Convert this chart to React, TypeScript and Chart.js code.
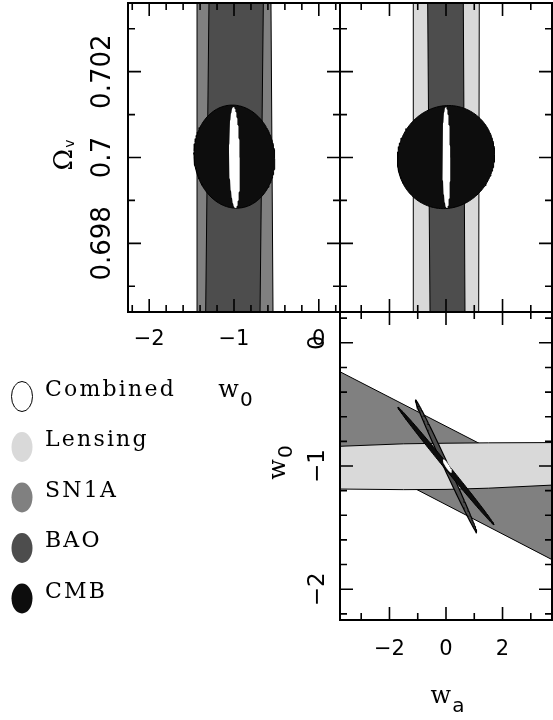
import React, { useEffect, useRef } from 'react';
import { Chart, registerables } from 'chart.js';

Chart.register(...registerables);

const CANVAS_W = 553;
const CANVAS_H = 720;

// ---------- axes ----------
const W0_MIN = -2.25;
const W0_MAX = 0.25;
const WA_MIN = -3.75;
const WA_MAX = 3.75;
const OMV_MIN = 0.6964;
const OMV_MAX = 0.7036;

const W0_TICK_LABELS = [-2, -1, 0];
const WA_TICK_LABELS = [-2, 0, 2];
const OMV_TICK_LABELS = [0.698, 0.7, 0.702];

// ---------- legend ----------
const LEGEND_LABELS = ['Combined', 'Lensing', 'SN1A', 'BAO', 'CMB'];
const LEGEND_COLORS = ['#ffffff', '#d9d9d9', '#808080', '#4d4d4d', '#0d0d0d'];
const [COL_COMBINED, COL_LENSING, COL_SN1A, COL_BAO, COL_CMB] = LEGEND_COLORS;

// ---------- top-left panel: x = w0, y = Omega_v ----------
const TL_SN1A = [[-1.436, 0.7036], [-0.564, 0.7036], [-0.54, 0.6964], [-1.425, 0.6964]];
const TL_BAO = [[-1.295, 0.7036], [-0.654, 0.7036], [-0.693, 0.6964], [-1.334, 0.6964]];
// ellipses: [centre x, centre y, semi-axis a (x, y), semi-axis b (x, y)]
const TL_CMB = [-0.995, 0.70002, 0.477, -0.00005, -0.005, 0.0012];
const TL_COMBINED = [-0.995, 0.7, 0.063, 0, -0.012, 0.00118];

// ---------- top-right panel: x = wa, y = Omega_v ----------
const TR_LENSING = [[-1.157, 0.7036], [1.177, 0.7036], [1.156, 0.6964], [-1.157, 0.6964]];
const TR_BAO = [[-0.648, 0.7036], [0.612, 0.7036], [0.672, 0.6964], [-0.566, 0.6964]];
const TR_CMB = [0.0, 0.70001, 1.72, 0.00005, 0.02, 0.0012];
const TR_COMBINED = [0.01, 0.7, 0.14, 0, -0.02, 0.00118];

// ---------- bottom-right panel: x = wa, y = w0 ----------
const BR_SN1A = [[-3.75, -0.235], [3.75, -1.12], [3.75, -1.76], [-3.75, -0.868]];
const BR_LENSING = [
  [-3.75, -0.84], [-1.5, -0.82], [0, -0.815], [1.5, -0.812], [3.75, -0.81],
  [3.75, -1.155], [1.5, -1.18], [0, -1.19], [-1.5, -1.192], [-3.75, -1.187],
];
const BR_BAO = [0.0, -1.0, 1.08, -0.537, 0.08, 0.0085];
const BR_CMB = [0.0, -1.0, 1.7, -0.477, 0.0685, 0.0128];
const BR_COMBINED = [0.05, -1.0, 0.15, -0.055, 0.054, 0.0077];

// ---------- helpers ----------
function ellipsePoints(e: number[], n = 180) {
  const [cx, cy, ax, ay, bx, by] = e;
  const pts: { x: number; y: number }[] = [];
  for (let i = 0; i <= n; i++) {
    const t = (2 * Math.PI * i) / n;
    pts.push({ x: cx + ax * Math.cos(t) + bx * Math.sin(t), y: cy + ay * Math.cos(t) + by * Math.sin(t) });
  }
  return pts;
}

function polyPoints(p: number[][]) {
  const pts = p.map(([x, y]) => ({ x, y }));
  pts.push({ ...pts[0] });
  return pts;
}

function shape(data: any[], fill: string, border = '#000', bw = 1) {
  return {
    data,
    showLine: true,
    fill: 'shape',
    backgroundColor: fill,
    borderColor: border,
    borderWidth: bw,
    pointRadius: 0,
    pointHoverRadius: 0,
    tension: 0,
  };
}

interface AxisCfg {
  min: number;
  max: number;
  minor: number;
  majorStep: number;
}

const W0_AXIS: AxisCfg = { min: W0_MIN, max: W0_MAX, minor: 0.2, majorStep: 1 };
const WA_AXIS: AxisCfg = { min: WA_MIN, max: WA_MAX, minor: 1, majorStep: 2 };
const OMV_AXIS: AxisCfg = { min: OMV_MIN, max: OMV_MAX, minor: 0.001, majorStep: 0.002 };

interface Panel {
  area: [number, number, number, number];
  x: AxisCfg;
  y: AxisCfg;
  datasets: any[];
  xLabels?: number[];
  xLabelFont?: string;
  xLabelDy?: number;
  yLabels?: number[];
  yLabelFont?: string;
  yLabelDx?: number;
  xTitle?: { main: string; sub: string; dx: number; dy: number; subDy: number };
  yTitle?: { main: string; sub: string; dx: number; dy: number; subDy: number; mainFont: string; subFont: string };
  legend?: boolean;
}

function fmt(v: number) {
  const s = String(v);
  return s.startsWith('-') ? '\u2212' + s.slice(1) : s;
}

function forTicks(a: AxisCfg, cb: (v: number, major: boolean) => void) {
  const k0 = Math.ceil(a.min / a.minor - 1e-9);
  const k1 = Math.floor(a.max / a.minor + 1e-9);
  for (let k = k0; k <= k1; k++) {
    const v = k * a.minor;
    const r = v / a.majorStep;
    cb(v, Math.abs(r - Math.round(r)) < 1e-6);
  }
}

function drawSubLabel(
  ctx: CanvasRenderingContext2D, x: number, y: number, main: string, sub: string,
  mainFont: string, subFont: string, subDy: number, rotated: boolean,
) {
  ctx.save();
  ctx.translate(x, y);
  if (rotated) ctx.rotate(-Math.PI / 2);
  ctx.fillStyle = '#000';
  ctx.textBaseline = 'alphabetic';
  ctx.textAlign = 'left';
  ctx.font = mainFont;
  const mw = ctx.measureText(main).width;
  ctx.font = subFont;
  const sw = ctx.measureText(sub).width;
  const x0 = -(mw + sw) / 2;
  ctx.font = mainFont;
  ctx.fillText(main, x0, 0);
  ctx.font = subFont;
  ctx.fillText(sub, x0 + mw + 1, subDy);
  ctx.restore();
}

function drawLegend(ctx: CanvasRenderingContext2D) {
  const cx = 22;
  const y0 = 396.5;
  const step = 50.5;
  ctx.save();
  LEGEND_LABELS.forEach((label, i) => {
    const y = y0 + i * step;
    ctx.beginPath();
    ctx.ellipse(cx, y, 10.5, 15, 0, 0, 2 * Math.PI);
    ctx.fillStyle = LEGEND_COLORS[i];
    ctx.fill();
    if (i === 0) {
      ctx.strokeStyle = '#000';
      ctx.lineWidth = 1;
      ctx.stroke();
    }
    ctx.fillStyle = '#000';
    ctx.font = '22px "DejaVu Serif"';
    (ctx as any).letterSpacing = '2.2px';
    ctx.textAlign = 'left';
    ctx.textBaseline = 'alphabetic';
    ctx.fillText(label, 45, y - 1);
    (ctx as any).letterSpacing = '0px';
  });
  ctx.restore();
}

function makePlugin(p: Panel) {
  return {
    id: 'panelDecor',
    afterDatasetsDraw(chart: any) {
      const ctx: CanvasRenderingContext2D = chart.ctx;
      const xs = chart.scales.x;
      const ys = chart.scales.y;
      const { left, right, top, bottom } = chart.chartArea;
      ctx.save();
      ctx.strokeStyle = '#000';
      ctx.lineWidth = 1.6;
      ctx.beginPath();
      forTicks(p.x, (v, major) => {
        const px = xs.getPixelForValue(v);
        const len = major ? 13 : 7;
        ctx.moveTo(px, bottom);
        ctx.lineTo(px, bottom - len);
        ctx.moveTo(px, top);
        ctx.lineTo(px, top + len);
      });
      forTicks(p.y, (v, major) => {
        const py = ys.getPixelForValue(v);
        const len = major ? 13 : 7;
        ctx.moveTo(left, py);
        ctx.lineTo(left + len, py);
        ctx.moveTo(right, py);
        ctx.lineTo(right - len, py);
      });
      ctx.stroke();
      ctx.lineWidth = 2;
      ctx.strokeRect(left, top, right - left, bottom - top);

      ctx.fillStyle = '#000';
      ctx.textBaseline = 'alphabetic';
      if (p.xLabels) {
        ctx.font = p.xLabelFont || '21px "DejaVu Sans"';
        ctx.textAlign = 'center';
        p.xLabels.forEach((v) => {
          ctx.fillText(fmt(v), xs.getPixelForValue(v), bottom + (p.xLabelDy || 33));
        });
      }
      if (p.yLabels) {
        p.yLabels.forEach((v) => {
          ctx.save();
          ctx.translate(left - (p.yLabelDx || 18), ys.getPixelForValue(v));
          ctx.rotate(-Math.PI / 2);
          ctx.font = p.yLabelFont || '26px "DejaVu Sans"';
          ctx.textAlign = 'center';
          ctx.fillText(fmt(v), 0, 0);
          ctx.restore();
        });
      }
      if (p.xTitle) {
        const t = p.xTitle;
        drawSubLabel(ctx, (left + right) / 2 + t.dx, bottom + t.dy, t.main, t.sub,
          '24px "DejaVu Serif"', '20px "DejaVu Sans"', t.subDy, false);
      }
      if (p.yTitle) {
        const t = p.yTitle;
        drawSubLabel(ctx, left - t.dx, (top + bottom) / 2 + t.dy, t.main, t.sub,
          t.mainFont, t.subFont, t.subDy, true);
      }
      if (p.legend) drawLegend(ctx);
      ctx.restore();
    },
  };
}

const PANELS: Panel[] = [
  {
    area: [128, 3, 340, 312],
    x: W0_AXIS,
    y: OMV_AXIS,
    datasets: [
      shape(polyPoints(TL_SN1A), COL_SN1A),
      shape(polyPoints(TL_BAO), COL_BAO),
      shape(ellipsePoints(TL_CMB), COL_CMB),
      shape(ellipsePoints(TL_COMBINED), COL_COMBINED, COL_COMBINED, 0),
    ],
    xLabels: W0_TICK_LABELS,
    xLabelFont: '21px "DejaVu Sans"',
    xLabelDy: 33,
    yLabels: OMV_TICK_LABELS,
    yLabelFont: '26px "DejaVu Sans"',
    yLabelDx: 18,
    xTitle: { main: 'w', sub: '0', dx: 1, dy: 85, subDy: 9 },
    yTitle: { main: '\u03A9', sub: 'v', dx: 56, dy: -2, subDy: 2, mainFont: '26px "DejaVu Serif"', subFont: '14px "DejaVu Sans"' },
    legend: true,
  },
  {
    area: [340, 3, 552, 312],
    x: WA_AXIS,
    y: OMV_AXIS,
    datasets: [
      shape(polyPoints(TR_LENSING), COL_LENSING),
      shape(polyPoints(TR_BAO), COL_BAO),
      shape(ellipsePoints(TR_CMB), COL_CMB),
      shape(ellipsePoints(TR_COMBINED), COL_COMBINED, COL_COMBINED, 0),
    ],
  },
  {
    area: [340, 312, 552, 620],
    x: WA_AXIS,
    y: W0_AXIS,
    datasets: [
      shape(polyPoints(BR_SN1A), COL_SN1A),
      shape(polyPoints(BR_LENSING), COL_LENSING),
      shape(ellipsePoints(BR_BAO), COL_BAO, '#000', 1.2),
      shape(ellipsePoints(BR_CMB), COL_CMB, '#000', 1),
      shape(ellipsePoints(BR_COMBINED), COL_COMBINED, COL_COMBINED, 0),
    ],
    xLabels: WA_TICK_LABELS,
    xLabelFont: '21px "DejaVu Sans"',
    xLabelDy: 35,
    yLabels: W0_TICK_LABELS,
    yLabelFont: '23px "DejaVu Sans"',
    yLabelDx: 16,
    xTitle: { main: 'w', sub: 'a', dx: 1, dy: 83, subDy: 9 },
    yTitle: { main: 'w', sub: '0', dx: 55, dy: -3, subDy: 7, mainFont: '24px "DejaVu Serif"', subFont: '20px "DejaVu Sans"' },
  },
];

function PanelChart({ panel }: { panel: Panel }) {
  const ref = useRef<HTMLCanvasElement>(null);
  useEffect(() => {
    const [l, t, r, b] = panel.area;
    const n = panel.datasets.length;
    const datasets = panel.datasets.map((d, i) => ({ ...d, order: n - i }));
    const chart = new Chart(ref.current as HTMLCanvasElement, {
      type: 'scatter',
      data: { datasets } as any,
      options: {
        responsive: false,
        animation: false,
        events: [],
        layout: { padding: { left: l, top: t, right: CANVAS_W - r, bottom: CANVAS_H - b } },
        scales: {
          x: { type: 'linear', min: panel.x.min, max: panel.x.max, display: false },
          y: { type: 'linear', min: panel.y.min, max: panel.y.max, display: false },
        },
        plugins: { legend: { display: false }, tooltip: { enabled: false }, title: { display: false } },
      } as any,
      plugins: [makePlugin(panel)],
    });
    return () => chart.destroy();
  }, [panel]);
  return (
    <canvas
      ref={ref}
      width={CANVAS_W}
      height={CANVAS_H}
      style={{ position: 'absolute', left: 0, top: 0, width: CANVAS_W, height: CANVAS_H }}
    />
  );
}

export default function App() {
  return (
    <div style={{ position: 'fixed', left: 0, top: 0, width: CANVAS_W, height: CANVAS_H, background: '#fff', overflow: 'hidden' }}>
      {PANELS.map((p, i) => (
        <PanelChart key={i} panel={p} />
      ))}
    </div>
  );
}
